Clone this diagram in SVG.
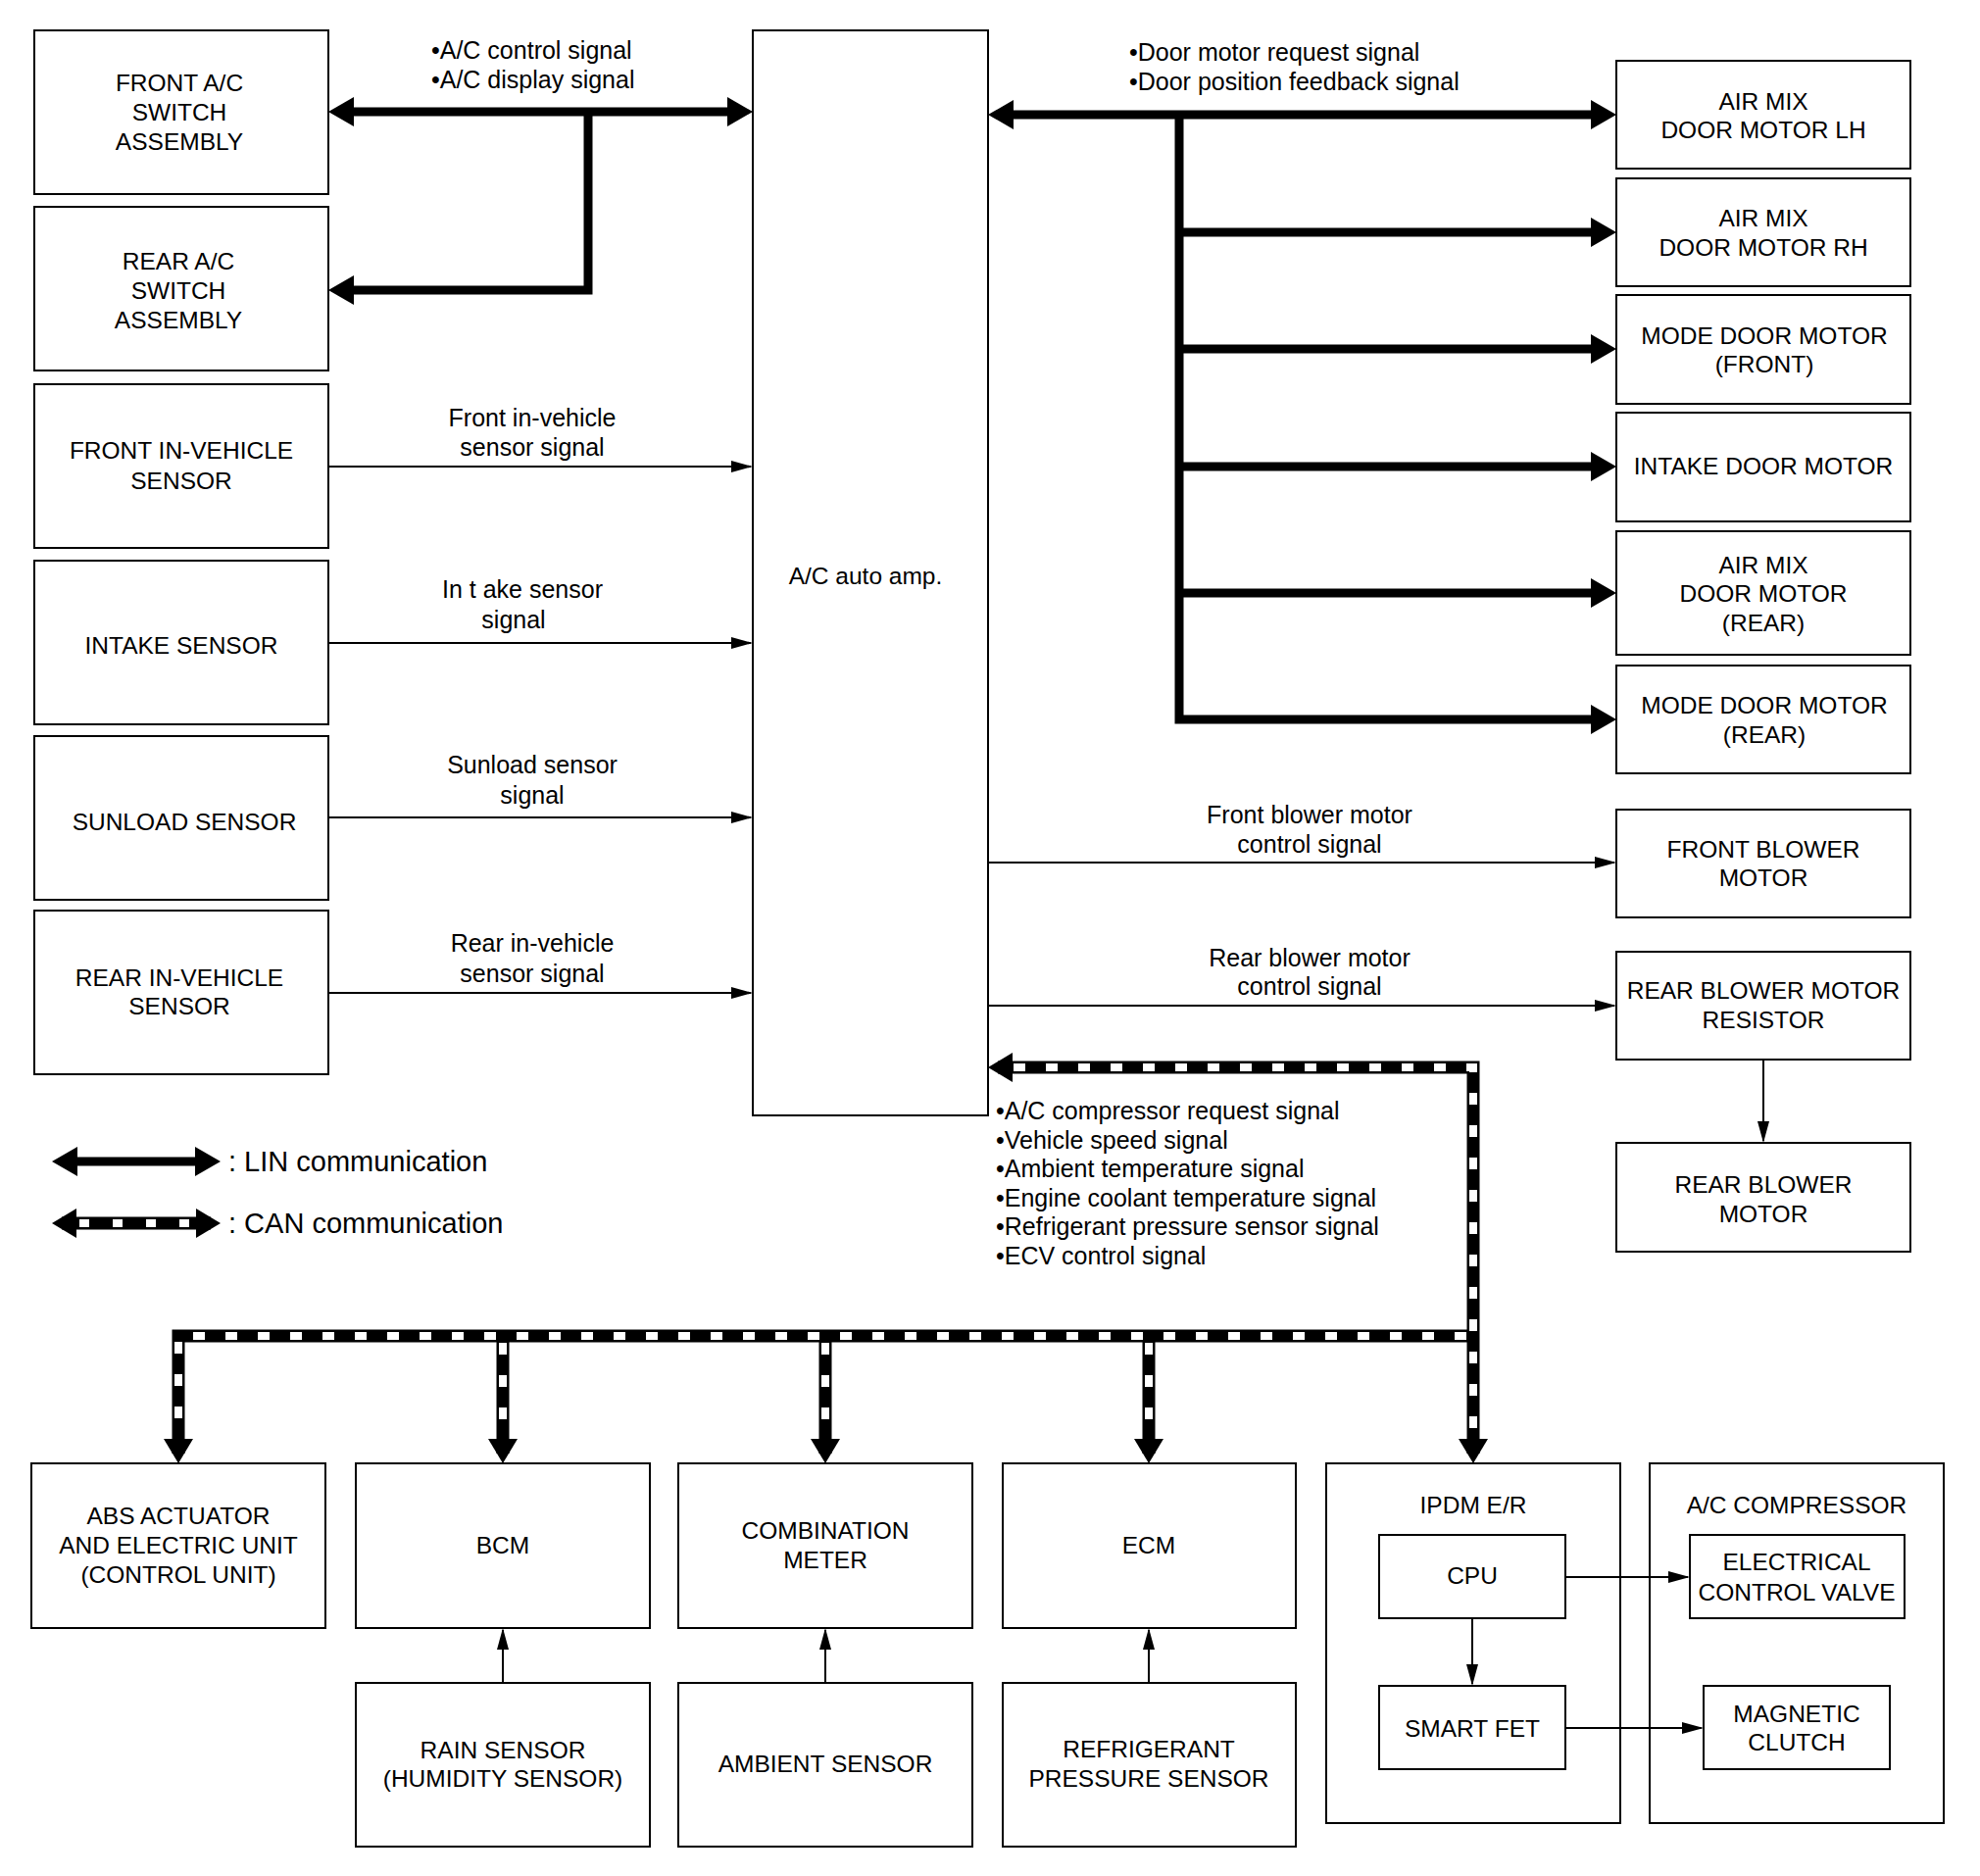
<svg xmlns="http://www.w3.org/2000/svg" width="2020" height="1914" viewBox="0 0 2020 1914">
<style>
rect{fill:#fff;stroke:#000;stroke-width:2}
text{font-family:"Liberation Sans",Arial,sans-serif;fill:#000}
.b{font-size:24.5px;text-anchor:middle}
.l{font-size:25px}
.lc{font-size:25px;text-anchor:middle}
.lg{font-size:29px}
.lin{fill:none;stroke:#000;stroke-width:9}
.thin{fill:none;stroke:#000;stroke-width:2}
.canB{fill:none;stroke:#000;stroke-width:13}
.canW{fill:none;stroke:#fff;stroke-width:8;stroke-dasharray:12 21}
</style>
<defs>
<marker id="hL" markerUnits="userSpaceOnUse" markerWidth="30" markerHeight="32" refX="16" refY="15" orient="auto-start-reverse" overflow="visible"><path d="M0,0 L26,15 L0,30 z"/></marker>
<marker id="hC" markerUnits="userSpaceOnUse" markerWidth="30" markerHeight="32" refX="15" refY="15" orient="auto-start-reverse" overflow="visible"><path d="M0,0 L25,15 L0,30 z"/></marker>
<marker id="hT" markerUnits="userSpaceOnUse" markerWidth="24" markerHeight="14" refX="20" refY="6" orient="auto-start-reverse" overflow="visible"><path d="M0,0 L22,6 L0,12 z"/></marker>
</defs>
<rect x="0" y="0" width="2020" height="1914" style="stroke:none"/>

<g id="front-ac-switch"><rect x="35" y="31" width="300" height="167"/><text class="b" x="183" y="93">FRONT A/C</text><text class="b" x="183" y="123">SWITCH</text><text class="b" x="183" y="153">ASSEMBLY</text></g>
<g id="rear-ac-switch"><rect x="35" y="211" width="300" height="167"/><text class="b" x="182" y="275">REAR A/C</text><text class="b" x="182" y="305">SWITCH</text><text class="b" x="182" y="335">ASSEMBLY</text></g>
<g id="front-in-vehicle-sensor"><rect x="35" y="392" width="300" height="167"/><text class="b" x="185" y="468">FRONT IN-VEHICLE</text><text class="b" x="185" y="499">SENSOR</text></g>
<g id="intake-sensor"><rect x="35" y="572" width="300" height="167"/><text class="b" x="185" y="667">INTAKE SENSOR</text></g>
<g id="sunload-sensor"><rect x="35" y="751" width="300" height="167"/><text class="b" x="188" y="847">SUNLOAD SENSOR</text></g>
<g id="rear-in-vehicle-sensor"><rect x="35" y="929" width="300" height="167"/><text class="b" x="183" y="1006">REAR IN-VEHICLE</text><text class="b" x="183" y="1035">SENSOR</text></g>

<g id="ac-auto-amp"><rect x="768" y="31" width="240" height="1107"/><text class="b" x="883" y="596">A/C auto amp.</text></g>

<g id="air-mix-lh"><rect x="1649" y="62" width="300" height="110"/><text class="b" x="1799" y="112">AIR MIX</text><text class="b" x="1799" y="141">DOOR MOTOR LH</text></g>
<g id="air-mix-rh"><rect x="1649" y="182" width="300" height="110"/><text class="b" x="1799" y="231">AIR MIX</text><text class="b" x="1799" y="261">DOOR MOTOR RH</text></g>
<g id="mode-door-front"><rect x="1649" y="301" width="300" height="111"/><text class="b" x="1800" y="351">MODE DOOR MOTOR</text><text class="b" x="1800" y="380">(FRONT)</text></g>
<g id="intake-door-motor"><rect x="1649" y="421" width="300" height="111"/><text class="b" x="1799" y="484">INTAKE DOOR MOTOR</text></g>
<g id="air-mix-rear"><rect x="1649" y="542" width="300" height="126"/><text class="b" x="1799" y="585">AIR MIX</text><text class="b" x="1799" y="614">DOOR MOTOR</text><text class="b" x="1799" y="644">(REAR)</text></g>
<g id="mode-door-rear"><rect x="1649" y="679" width="300" height="110"/><text class="b" x="1800" y="728">MODE DOOR MOTOR</text><text class="b" x="1800" y="758">(REAR)</text></g>
<g id="front-blower-motor"><rect x="1649" y="826" width="300" height="110"/><text class="b" x="1799" y="875">FRONT BLOWER</text><text class="b" x="1799" y="904">MOTOR</text></g>
<g id="rear-blower-resistor"><rect x="1649" y="971" width="300" height="110"/><text class="b" x="1799" y="1019">REAR BLOWER MOTOR</text><text class="b" x="1799" y="1049">RESISTOR</text></g>
<g id="rear-blower-motor"><rect x="1649" y="1166" width="300" height="111"/><text class="b" x="1799" y="1217">REAR BLOWER</text><text class="b" x="1799" y="1247">MOTOR</text></g>

<g id="abs"><rect x="32" y="1493" width="300" height="168"/><text class="b" x="182" y="1555">ABS ACTUATOR</text><text class="b" x="182" y="1585">AND ELECTRIC UNIT</text><text class="b" x="182" y="1615">(CONTROL UNIT)</text></g>
<g id="bcm"><rect x="363" y="1493" width="300" height="168"/><text class="b" x="513" y="1585">BCM</text></g>
<g id="combination-meter"><rect x="692" y="1493" width="300" height="168"/><text class="b" x="842" y="1570">COMBINATION</text><text class="b" x="842" y="1600">METER</text></g>
<g id="ecm"><rect x="1023" y="1493" width="299" height="168"/><text class="b" x="1172" y="1585">ECM</text></g>
<g id="ipdm"><rect x="1353" y="1493" width="300" height="367"/><text class="b" x="1503" y="1544">IPDM E/R</text></g>
<g id="cpu"><rect x="1407" y="1566" width="190" height="85"/><text class="b" x="1502" y="1616">CPU</text></g>
<g id="smart-fet"><rect x="1407" y="1720" width="190" height="85"/><text class="b" x="1502" y="1772">SMART FET</text></g>
<g id="ac-compressor"><rect x="1683" y="1493" width="300" height="367"/><text class="b" x="1833" y="1544">A/C COMPRESSOR</text></g>
<g id="ecv"><rect x="1724" y="1566" width="219" height="85"/><text class="b" x="1833" y="1602">ELECTRICAL</text><text class="b" x="1833" y="1633">CONTROL VALVE</text></g>
<g id="magnetic-clutch"><rect x="1738" y="1720" width="190" height="85"/><text class="b" x="1833" y="1757">MAGNETIC</text><text class="b" x="1833" y="1786">CLUTCH</text></g>
<g id="rain-sensor"><rect x="363" y="1717" width="300" height="167"/><text class="b" x="513" y="1794">RAIN SENSOR</text><text class="b" x="513" y="1823">(HUMIDITY SENSOR)</text></g>
<g id="ambient-sensor"><rect x="692" y="1717" width="300" height="167"/><text class="b" x="842" y="1808">AMBIENT SENSOR</text></g>
<g id="refrigerant-sensor"><rect x="1023" y="1717" width="299" height="167"/><text class="b" x="1172" y="1793">REFRIGERANT</text><text class="b" x="1172" y="1823">PRESSURE SENSOR</text></g>

<g id="connectors">
<path class="lin" d="M345,114 L758,114" marker-start="url(#hL)" marker-end="url(#hL)"/>
<path class="lin" d="M600,114 L600,296 L345,296" marker-end="url(#hL)"/>
<path class="thin" d="M335,476 L766,476" marker-end="url(#hT)"/>
<path class="thin" d="M335,656 L766,656" marker-end="url(#hT)"/>
<path class="thin" d="M335,834 L766,834" marker-end="url(#hT)"/>
<path class="thin" d="M335,1013 L766,1013" marker-end="url(#hT)"/>
<path class="lin" d="M1018,117 L1639,117" marker-start="url(#hL)" marker-end="url(#hL)"/>
<path class="lin" d="M1203,117 L1203,734 L1639,734" marker-end="url(#hL)"/>
<path class="lin" d="M1203,237 L1639,237" marker-end="url(#hL)"/>
<path class="lin" d="M1203,356 L1639,356" marker-end="url(#hL)"/>
<path class="lin" d="M1203,476 L1639,476" marker-end="url(#hL)"/>
<path class="lin" d="M1203,605 L1639,605" marker-end="url(#hL)"/>
<path class="thin" d="M1008,880 L1647,880" marker-end="url(#hT)"/>
<path class="thin" d="M1008,1026 L1647,1026" marker-end="url(#hT)"/>
<path class="thin" d="M1799,1081 L1799,1164" marker-end="url(#hT)"/>
<path class="canB" d="M1018,1089 L1503,1089 L1503,1483" marker-start="url(#hC)" marker-end="url(#hC)"/>
<path class="canB" d="M1503,1363 L182,1363 L182,1483" marker-end="url(#hC)"/>
<path class="canB" d="M513,1363 L513,1483" marker-end="url(#hC)"/>
<path class="canB" d="M842,1363 L842,1483" marker-end="url(#hC)"/>
<path class="canB" d="M1172,1363 L1172,1483" marker-end="url(#hC)"/>
<path class="canW" d="M1034,1089 L1503,1089 L1503,1466"/>
<path class="canW" d="M1496,1363 L182,1363 L182,1466"/>
<path class="canW" d="M513,1370 L513,1466"/>
<path class="canW" d="M842,1370 L842,1466"/>
<path class="canW" d="M1172,1370 L1172,1466"/>
<path class="thin" d="M513,1717 L513,1663" marker-end="url(#hT)"/>
<path class="thin" d="M842,1717 L842,1663" marker-end="url(#hT)"/>
<path class="thin" d="M1172,1717 L1172,1663" marker-end="url(#hT)"/>
<path class="thin" d="M1597,1609 L1722,1609" marker-end="url(#hT)"/>
<path class="thin" d="M1597,1763 L1736,1763" marker-end="url(#hT)"/>
<path class="thin" d="M1502,1651 L1502,1718" marker-end="url(#hT)"/>
</g>

<g id="labels">
<text class="l" x="440" y="60">•A/C control signal</text>
<text class="l" x="440" y="90">•A/C display signal</text>
<text class="l" x="1152" y="62">•Door motor request signal</text>
<text class="l" x="1152" y="92">•Door position feedback signal</text>
<text class="lc" x="543" y="435">Front in-vehicle</text>
<text class="lc" x="543" y="465">sensor signal</text>
<text class="lc" x="533" y="610">In t ake sensor</text>
<text class="lc" x="524" y="641">signal</text>
<text class="lc" x="543" y="789">Sunload sensor</text>
<text class="lc" x="543" y="820">signal</text>
<text class="lc" x="543" y="971">Rear in-vehicle</text>
<text class="lc" x="543" y="1002">sensor signal</text>
<text class="lc" x="1336" y="840">Front blower motor</text>
<text class="lc" x="1336" y="870">control signal</text>
<text class="lc" x="1336" y="986">Rear blower motor</text>
<text class="lc" x="1336" y="1015">control signal</text>
<text class="l" x="1016" y="1142">•A/C compressor request signal</text>
<text class="l" x="1016" y="1172">•Vehicle speed signal</text>
<text class="l" x="1016" y="1201">•Ambient temperature signal</text>
<text class="l" x="1016" y="1231">•Engine coolant temperature signal</text>
<text class="l" x="1016" y="1260">•Refrigerant pressure sensor signal</text>
<text class="l" x="1016" y="1290">•ECV control signal</text>
</g>

<g id="legend">
<path class="lin" d="M63,1185 L215,1185" marker-start="url(#hL)" marker-end="url(#hL)"/>
<text class="lg" x="233" y="1195">: LIN communication</text>
<path class="canB" d="M63,1248 L215,1248" marker-start="url(#hC)" marker-end="url(#hC)"/>
<path class="canW" d="M79,1248 L199,1248" style="stroke-dasharray:10 24;stroke-dashoffset:-2"/>
<text class="lg" x="233" y="1258">: CAN communication</text>
</g>
</svg>
